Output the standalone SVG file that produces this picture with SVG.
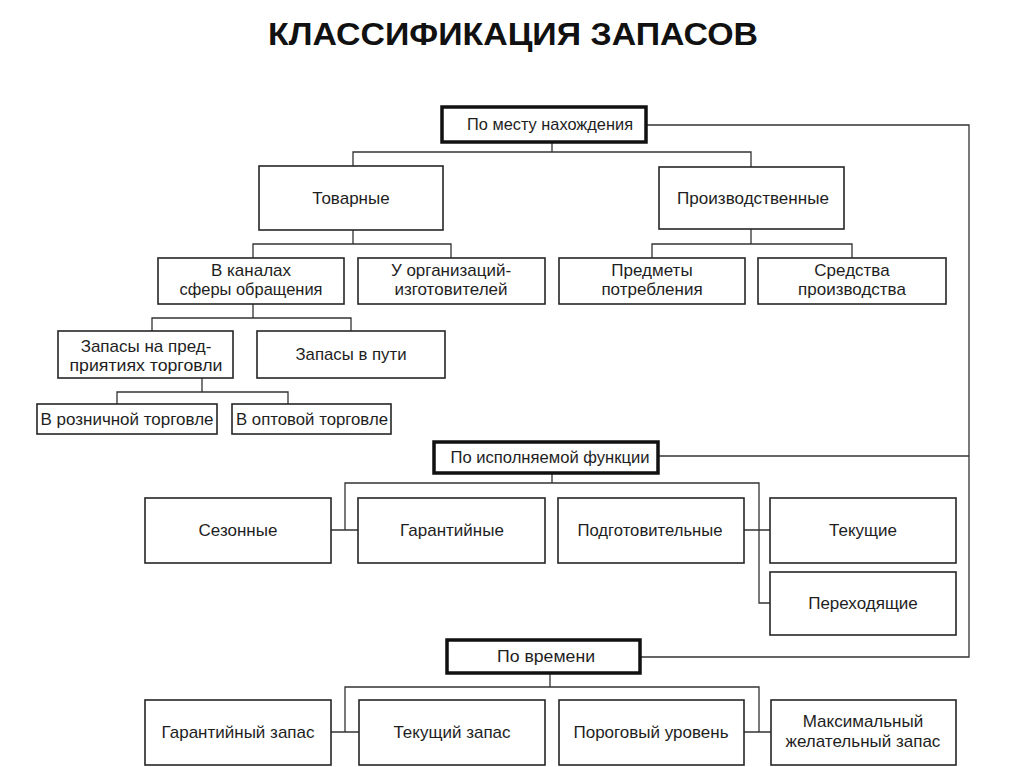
<svg xmlns="http://www.w3.org/2000/svg" width="1024" height="767" viewBox="0 0 1024 767">
<style>
.bg{fill:#ffffff}
.box{fill:#ffffff;stroke:#262626;stroke-width:1.6}
.hdr{fill:#ffffff;stroke:#111111;stroke-width:3.5}
.t{font-family:"Liberation Sans",Arial,sans-serif;font-size:17px;fill:#1e1e1e;text-anchor:middle}
.title{font-family:"Liberation Sans",Arial,sans-serif;font-size:32px;font-weight:bold;fill:#111111;text-anchor:middle}
.c{fill:none;stroke:#333333;stroke-width:1.3}
</style>
<rect class="bg" x="0" y="0" width="1024" height="767"/>
<text class="title" x="513" y="45" textLength="490" lengthAdjust="spacingAndGlyphs">КЛАССИФИКАЦИЯ ЗАПАСОВ</text>

<g id="connectors">
  <path class="c" d="M646,125 H969 V657 H640"/>
  <path class="c" d="M658,456 H969"/>
  <path class="c" d="M552,142 V152 M353,166 V152 H751 V167"/>
  <path class="c" d="M353,230 V244 M253,258 V244 H451 V258"/>
  <path class="c" d="M751,229 V244 M652,258 V244 H852 V258"/>
  <path class="c" d="M253,304 V318 M152,331 V318 H351 V331"/>
  <path class="c" d="M202,378 V392 M117,404 V392 H288 V404"/>
  <path class="c" d="M552,473 V483 M345,530 V483 H759 V603 H770 M331,530 H358 M744,530 H770"/>
  <path class="c" d="M550,673 V687 M345,732 V687 H759 V732 M331,732 H359 M744,732 H771"/>
</g>

<g id="n-location">
  <rect class="hdr" x="442" y="107" width="204" height="35"/>
  <text class="t" x="550" y="130" textLength="166" lengthAdjust="spacingAndGlyphs">По месту нахождения</text>
</g>
<g id="n-tovarnye">
  <rect class="box" x="259" y="166" width="184" height="64"/>
  <text class="t" x="351" y="204">Товарные</text>
</g>
<g id="n-proizv">
  <rect class="box" x="659" y="167" width="185" height="62"/>
  <text class="t" x="753" y="204" textLength="152" lengthAdjust="spacingAndGlyphs">Производственные</text>
</g>
<g id="n-kanaly">
  <rect class="box" x="158" y="258" width="186" height="46"/>
  <text class="t" x="251" y="276">В каналах</text>
  <text class="t" x="251" y="295" textLength="143" lengthAdjust="spacingAndGlyphs">сферы обращения</text>
</g>
<g id="n-izgotov">
  <rect class="box" x="358" y="258" width="187" height="46"/>
  <text class="t" x="451" y="276">У организаций-</text>
  <text class="t" x="451" y="295">изготовителей</text>
</g>
<g id="n-predmety">
  <rect class="box" x="559" y="258" width="186" height="46"/>
  <text class="t" x="652" y="276">Предметы</text>
  <text class="t" x="652" y="295">потребления</text>
</g>
<g id="n-sredstva">
  <rect class="box" x="758" y="258" width="188" height="46"/>
  <text class="t" x="852" y="276">Средства</text>
  <text class="t" x="852" y="295">производства</text>
</g>
<g id="n-zapasy-torg">
  <rect class="box" x="58" y="331" width="175" height="47"/>
  <text class="t" x="146" y="352">Запасы на пред-</text>
  <text class="t" x="146" y="371" textLength="153" lengthAdjust="spacingAndGlyphs">приятиях торговли</text>
</g>
<g id="n-zapasy-put">
  <rect class="box" x="257" y="331" width="188" height="47"/>
  <text class="t" x="351" y="360" textLength="111" lengthAdjust="spacingAndGlyphs">Запасы в пути</text>
</g>
<g id="n-rozn">
  <rect class="box" x="37" y="404" width="180" height="30"/>
  <text class="t" x="127" y="425" textLength="173" lengthAdjust="spacingAndGlyphs">В розничной торговле</text>
</g>
<g id="n-opt">
  <rect class="box" x="232" y="404" width="159" height="30"/>
  <text class="t" x="312" y="425" textLength="152" lengthAdjust="spacingAndGlyphs">В оптовой торговле</text>
</g>

<g id="n-function">
  <rect class="hdr" x="434" y="442" width="224" height="31"/>
  <text class="t" x="550" y="463" textLength="199" lengthAdjust="spacingAndGlyphs">По исполняемой функции</text>
</g>
<g id="n-sezon">
  <rect class="box" x="145" y="498" width="186" height="65"/>
  <text class="t" x="238" y="536">Сезонные</text>
</g>
<g id="n-garant">
  <rect class="box" x="358" y="498" width="187" height="65"/>
  <text class="t" x="452" y="536">Гарантийные</text>
</g>
<g id="n-podgot">
  <rect class="box" x="558" y="498" width="186" height="65"/>
  <text class="t" x="650" y="536" textLength="145" lengthAdjust="spacingAndGlyphs">Подготовительные</text>
</g>
<g id="n-tekush">
  <rect class="box" x="770" y="498" width="186" height="65"/>
  <text class="t" x="863" y="536">Текущие</text>
</g>
<g id="n-perehod">
  <rect class="box" x="770" y="572" width="186" height="63"/>
  <text class="t" x="863" y="609">Переходящие</text>
</g>

<g id="n-time">
  <rect class="hdr" x="447" y="640" width="193" height="33"/>
  <text class="t" x="546" y="662" textLength="98" lengthAdjust="spacingAndGlyphs">По времени</text>
</g>
<g id="n-garant-zapas">
  <rect class="box" x="145" y="700" width="186" height="65"/>
  <text class="t" x="238" y="738">Гарантийный запас</text>
</g>
<g id="n-tek-zapas">
  <rect class="box" x="359" y="700" width="186" height="65"/>
  <text class="t" x="452" y="738">Текущий запас</text>
</g>
<g id="n-porog">
  <rect class="box" x="559" y="700" width="185" height="65"/>
  <text class="t" x="651" y="738">Пороговый уровень</text>
</g>
<g id="n-max">
  <rect class="box" x="771" y="700" width="185" height="65"/>
  <text class="t" x="863" y="727">Максимальный</text>
  <text class="t" x="863" y="747">желательный запас</text>
</g>
</svg>
